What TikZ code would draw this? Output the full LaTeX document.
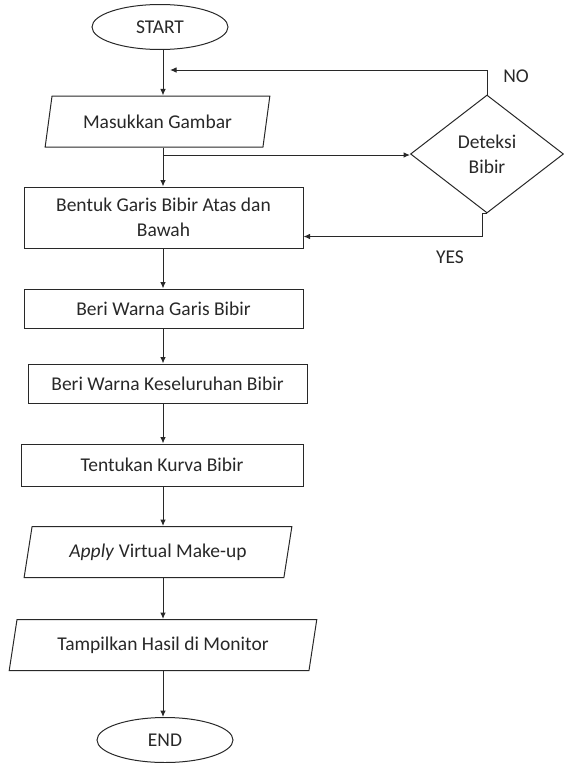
\documentclass[tikz,border=0pt]{standalone}
\usepackage{fontspec}
\setmainfont{Carlito}
\usetikzlibrary{shapes.geometric,arrows.meta}
\definecolor{LineGray}{RGB}{40,40,40}
\tikzset{
	term/.style={ellipse,draw=LineGray,line width=1pt,minimum width=136pt,minimum height=45pt,inner sep=0pt},
	io/.style={trapezium,trapezium left angle=76,trapezium right angle=104,trapezium stretches=true,
		draw=LineGray,line width=1pt,minimum height=51pt},
	proc/.style={rectangle,draw=LineGray,line width=1pt,align=center},
	decision/.style={diamond,draw=LineGray,line width=1pt,minimum width=153pt,minimum height=118pt,
		align=center,inner sep=0pt},
	flow/.style={draw=LineGray,line width=1pt,-{Latex[length=6.5pt,width=5.5pt]}},
	lbl/.style={inner sep=0pt},
}
\begin{document}
\begin{tikzpicture}[x=1pt,y=-1pt,font=\fontsize{19.5}{25}\selectfont,text=LineGray]
	\useasboundingbox (0,0) rectangle (564,763);
	\coordinate (spine) at (163,0);
	\node[term] (start) at (160,27) {START};
	\node[io,minimum width=225pt] (masuk) at (157.5,121.5) {Masukkan Gambar};
	\node[proc,minimum width=279pt,minimum height=61pt] (bentuk) at (163.5,217.5) {Bentuk Garis Bibir Atas dan\\Bawah};
	\node[proc,minimum width=279pt,minimum height=39pt] (garis) at (163.5,308.5) {Beri Warna Garis Bibir};
	\node[proc,minimum width=279pt,minimum height=39pt] (warna) at (167.5,383.5) {Beri Warna Keseluruhan Bibir};
	\node[proc,minimum width=282pt,minimum height=42pt] (kurva) at (162,465) {Tentukan Kurva Bibir};
	\node[io,minimum width=268pt] (apply) at (158,552) {\textit{Apply} Virtual Make-up};
	\node[io,minimum width=308pt] (tampil) at (163,645) {Tampilkan Hasil di Monitor};
	\node[term] (stop) at (165,740) {END};
	\node[decision] (deteksi) at (487,154) {Deteksi\\Bibir};
	\node[lbl] (no) at (516,76) {NO};
	\node[lbl] (yes) at (450,257) {YES};

	% main flow
	\foreach \a/\b in {start/masuk,masuk/bentuk,bentuk/garis,garis/warna,warna/kurva,kurva/apply,apply/tampil,tampil/stop}
	\draw[flow] (\a.south -| spine) -- (\b.north -| spine);

	% branch to the decision and back
	\coordinate (fork) at (163,155);
	\coordinate (loop) at (170,70);
	\draw[flow] (fork) -- (fork -| deteksi.west);
	\draw[flow] (deteksi.north) |- (loop);
	\draw[flow] (deteksi.south) -- ++(-5,0) -- ++(0,23) coordinate (yesbend) -- (yesbend -| bentuk.east);
\end{tikzpicture}
\end{document}
